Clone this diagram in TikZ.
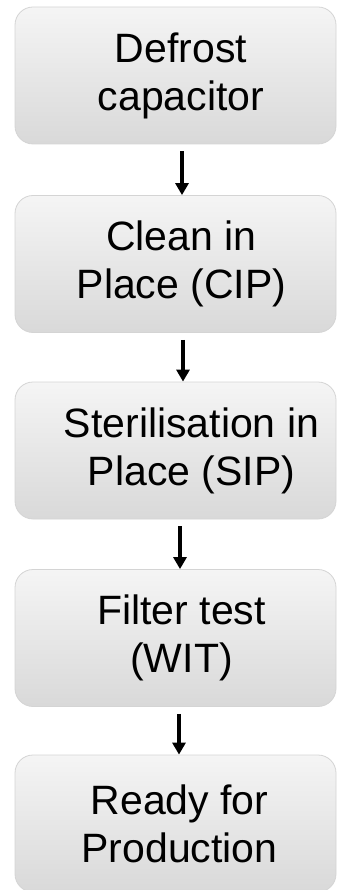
\documentclass[tikz,border=0pt]{standalone}
\usepackage{fontspec}
\setmainfont{Liberation Sans}
\usetikzlibrary{arrows.meta,shadows}
\tikzset{
  stepbox/.style={draw=black!17, line width=0.8pt, rounded corners=18pt,
    top color=black!4, bottom color=black!15, minimum width=321pt,
    minimum height=137pt, inner sep=0pt},
  steptext/.style={align=center, font=\fontsize{41}{48}\selectfont, text=black, inner sep=0pt},
  arr/.style={line width=3.6pt, -{Triangle[length=12pt,width=13pt]}}
}
\begin{document}
\begin{tikzpicture}[x=1pt,y=-1pt]
\useasboundingbox (0,0) rectangle (338,890);
\node[stepbox] (b1) at (175.5,75.5) {};
\node[stepbox] (b2) at (175.5,264) {};
\node[stepbox] (b3) at (175.5,450.5) {};
\node[stepbox] (b4) at (175.5,638) {};
\node[stepbox] (b5) at (175.5,823.5) {};
\node[steptext] (t1) at ([xshift=5.5pt]b1.center) {Defrost\\capacitor};
\node[steptext] (t2) at ([xshift=6pt]b2.center) {Clean in\\Place (CIP)};
\node[steptext] (t3) at ([xshift=16pt]b3.center) {Sterilisation in\\Place (SIP)};
\node[steptext] (t4) at ([xshift=6pt]b4.center) {Filter test\\(WIT)};
\node[steptext] (t5) at ([xshift=4pt]b5.center) {Ready for\\Production};
\draw[arr] ([xshift=6.5pt,yshift=-7pt]b1.south) -- ([xshift=6.5pt]b2.north);
\draw[arr] ([xshift=7.5pt,yshift=-7pt]b2.south) -- ([xshift=7.5pt]b3.north);
\draw[arr] ([xshift=4.5pt,yshift=-7pt]b3.south) -- ([xshift=4.5pt]b4.north);
\draw[arr] ([xshift=3.5pt,yshift=-7pt]b4.south) -- ([xshift=3.5pt]b5.north);
\end{tikzpicture}
\end{document}
